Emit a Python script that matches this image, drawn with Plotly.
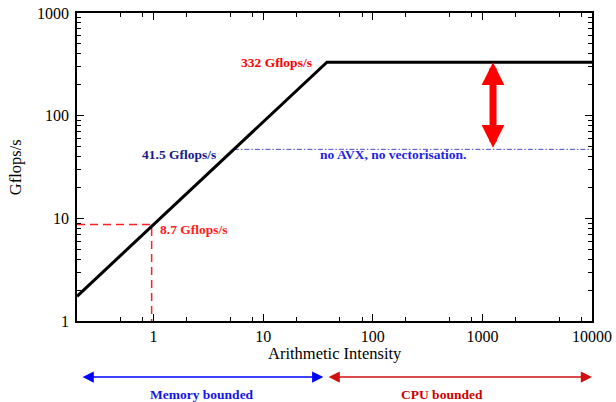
import math
import plotly.graph_objects as go

# ---- data ----
peak_gflops = 332.0          # CPU peak
mem_slope = 8.7              # Gflops/s at arithmetic intensity 1
no_avx_level = 47.0          # level of the dash-dot line
x_limits = [0.2, 10000.0]
y_limits = [1.0, 1000.0]
mark_x = 0.96                # red dashed marker intensity
mark_y = 8.7                 # red dashed marker level
gap_arrow_x = 1250.0         # position of red double arrow

x_major_ticks = [1, 10, 100, 1000, 10000]
x_minor_ticks = [0.5, 0.8, 2, 5, 8, 20, 50, 80, 200, 500, 800, 2000, 5000, 8000]
y_major_ticks = [1, 10, 100, 1000]
y_minor_ticks = [m * d for d in [1, 10, 100] for m in range(2, 10)]

label_peak = "332 Gflops/s"
label_noavx = "41.5 Gflops/s"
label_noavx_text = "no AVX, no vectorisation."
label_mark = "8.7 Gflops/s"
label_mem = "Memory bounded"
label_cpu = "CPU bounded"

ridge_x = peak_gflops / mem_slope
roof_x = [x_limits[0], ridge_x, x_limits[1]]
roof_y = [min(mem_slope * v, peak_gflops) for v in roof_x]
noavx_x0 = no_avx_level / mem_slope

FONT = "Liberation Serif"
L = math.log10

fig = go.Figure()

# red dashed marker lines
fig.add_trace(go.Scatter(x=[x_limits[0], mark_x, mark_x], y=[mark_y, mark_y, y_limits[0]],
                         mode="lines", line=dict(color="#ff2020", width=1.5, dash="8px,5px"),
                         hoverinfo="skip", showlegend=False))
# blue dash-dot no-AVX line
fig.add_trace(go.Scatter(x=[noavx_x0, x_limits[1]], y=[no_avx_level, no_avx_level],
                         mode="lines", line=dict(color="#4848d0", width=1, dash="5px,2px,1.5px,2px"),
                         hoverinfo="skip", showlegend=False))
# roofline
fig.add_trace(go.Scatter(x=roof_x, y=roof_y, mode="lines",
                         line=dict(color="black", width=3), hoverinfo="skip", showlegend=False))

ann = []
# red big double arrow
ann.append(dict(x=L(gap_arrow_x), y=L(peak_gflops), ax=L(gap_arrow_x), ay=L(no_avx_level),
                xref="x", yref="y", axref="x", ayref="y", text="", showarrow=True,
                arrowside="end+start", arrowhead=2, startarrowhead=2,
                arrowwidth=7, arrowsize=0.65, startarrowsize=0.65, arrowcolor="#ff0000",
                standoff=0, startstandoff=0))
# text labels inside plot
bold = dict(family=FONT, size=13.5)
ann.append(dict(x=L(29), y=L(peak_gflops), xref="x", yref="y", text="<b>%s</b>" % label_peak,
                showarrow=False, xanchor="right", yanchor="middle", font=dict(color="#ff0000", **bold)))
ann.append(dict(x=L(3.9), y=L(no_avx_level), xref="x", yref="y", text="<b>%s</b>" % label_noavx,
                showarrow=False, xanchor="right", yanchor="middle", yshift=-5,
                font=dict(color="#1a1a8c", **bold)))
ann.append(dict(x=L(31.5), y=L(no_avx_level), xref="x", yref="y", text="<b>%s</b>" % label_noavx_text,
                showarrow=False, xanchor="left", yanchor="middle", yshift=-5,
                font=dict(color="#2424e0", **bold)))
ann.append(dict(x=L(1.09), y=L(mark_y), xref="x", yref="y", text="<b>%s</b>" % label_mark,
                showarrow=False, xanchor="left", yanchor="middle", yshift=-5,
                font=dict(color="#ff2020", **bold)))
# bottom region arrows
ann.append(dict(x=L(0.225), y=-0.182, ax=L(36.5), ay=0, xref="x", yref="paper",
                axref="x", ayref="pixel", text="", showarrow=True, arrowside="end+start",
                arrowhead=2, startarrowhead=2, arrowwidth=1.4, arrowsize=1.6, startarrowsize=1.6,
                arrowcolor="#0000ff", standoff=0, startstandoff=0))
ann.append(dict(x=L(x_limits[1]), y=-0.182, ax=L(38.3), ay=0, xref="x", yref="paper",
                axref="x", ayref="pixel", text="", showarrow=True, arrowside="end+start",
                arrowhead=2, startarrowhead=2, arrowwidth=1.4, arrowsize=1.6, startarrowsize=1.6,
                arrowcolor="#d01010", standoff=0, startstandoff=0))
ann.append(dict(x=0.243, y=-0.24, xref="paper", yref="paper", text="<b>%s</b>" % label_mem,
                showarrow=False, xanchor="center", yanchor="middle", font=dict(color="#1414e6", **bold)))
ann.append(dict(x=0.709, y=-0.24, xref="paper", yref="paper", text="<b>%s</b>" % label_cpu,
                showarrow=False, xanchor="center", yanchor="middle", font=dict(color="#cc0000", **bold)))
# axis titles
ann.append(dict(x=0.5, y=-0.104, xref="paper", yref="paper", text="Arithmetic Intensity",
                showarrow=False, xanchor="center", yanchor="middle",
                font=dict(family=FONT, size=16.5, color="black")))
ann.append(dict(x=-0.12, y=0.5, xref="paper", yref="paper", text="Gflops/s", textangle=-90,
                showarrow=False, xanchor="center", yanchor="middle",
                font=dict(family=FONT, size=16.5, color="black")))

axis_common = dict(type="log", showgrid=False, zeroline=False, showline=True, linecolor="black",
                   linewidth=1.6, mirror="allticks", ticks="inside", ticklen=7, tickwidth=1,
                   tickcolor="black", automargin=False,
                   tickfont=dict(family=FONT, size=16, color="black"))

fig.update_layout(
    width=616, height=402,
    margin=dict(l=77, r=24, t=13, b=81),
    paper_bgcolor="white", plot_bgcolor="white",
    font=dict(family=FONT),
    showlegend=False,
    annotations=ann,
    xaxis=dict(range=[L(x_limits[0]), L(x_limits[1])], tickmode="array", tickvals=x_major_ticks,
               ticktext=[str(v) for v in x_major_ticks],
               minor=dict(tickmode="array", tickvals=x_minor_ticks, ticks="inside", ticklen=4,
                          tickcolor="black", showgrid=False),
               **axis_common),
    yaxis=dict(range=[L(y_limits[0]), L(y_limits[1])], tickmode="array", tickvals=y_major_ticks,
               ticktext=[str(v) for v in y_major_ticks], ticklabelstandoff=3,
               minor=dict(tickmode="array", tickvals=y_minor_ticks, ticks="inside", ticklen=4,
                          tickcolor="black", showgrid=False),
               **axis_common),
)

fig.write_html("out.html", config={"displayModeBar": False},
               post_script="document.body.style.margin='0';document.body.style.padding='0';"
                           "document.documentElement.style.overflow='hidden';")
